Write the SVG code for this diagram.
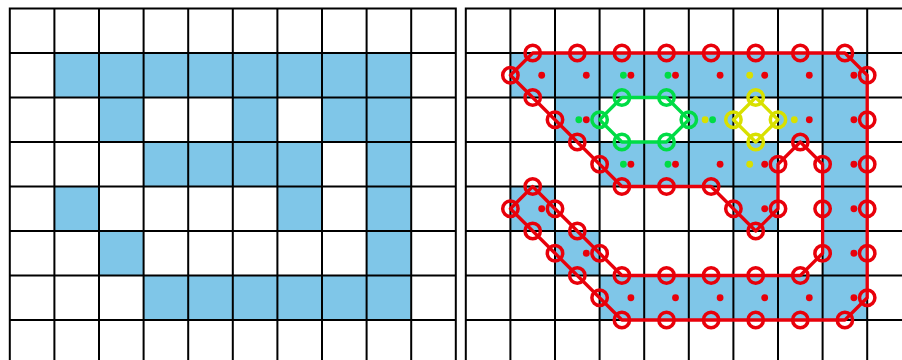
<svg xmlns="http://www.w3.org/2000/svg" xmlns:xlink="http://www.w3.org/1999/xlink" width="902" height="360" viewBox="0 0 902 360">
<style>
.cell{fill:#7fc6e8;stroke:none}
.gl{fill:none;stroke:#000;stroke-width:2;stroke-linecap:square}
.c{fill:none;stroke-width:3.3;stroke-linejoin:round}
.red{stroke:#e8000a}
.grn{stroke:#00dc46}
.yel{stroke:#d8e000}
.dr{fill:#e8000a}
.dg{fill:#00dc46}
.dy{fill:#d8e000}
</style>
<defs>
<marker id="mr" markerUnits="userSpaceOnUse" markerWidth="22" markerHeight="22" refX="11" refY="11" overflow="visible"><circle cx="11" cy="11" r="7.7" fill="none" stroke="#e8000a" stroke-width="3.5"/></marker>
<marker id="mg" markerUnits="userSpaceOnUse" markerWidth="22" markerHeight="22" refX="11" refY="11" overflow="visible"><circle cx="11" cy="11" r="7.7" fill="none" stroke="#00dc46" stroke-width="3.5"/></marker>
<marker id="my" markerUnits="userSpaceOnUse" markerWidth="22" markerHeight="22" refX="11" refY="11" overflow="visible"><circle cx="11" cy="11" r="7.7" fill="none" stroke="#d8e000" stroke-width="3.5"/></marker>
<g id="grid">
<rect class="cell" x="54.4" y="53" width="356.8" height="44.5"/>
<rect class="cell" x="99" y="97.5" width="44.6" height="44.5"/>
<rect class="cell" x="232.8" y="97.5" width="44.6" height="44.5"/>
<rect class="cell" x="322" y="97.5" width="89.2" height="44.5"/>
<rect class="cell" x="143.6" y="142" width="178.4" height="44.5"/>
<rect class="cell" x="366.6" y="142" width="44.6" height="44.5"/>
<rect class="cell" x="54.4" y="186.5" width="44.6" height="44.5"/>
<rect class="cell" x="277.4" y="186.5" width="44.6" height="44.5"/>
<rect class="cell" x="366.6" y="186.5" width="44.6" height="44.5"/>
<rect class="cell" x="99" y="231" width="44.6" height="44.5"/>
<rect class="cell" x="366.6" y="231" width="44.6" height="44.5"/>
<rect class="cell" x="143.6" y="275.5" width="267.6" height="44.5"/>
<path class="gl" d="M9.8 8.5V365M54.4 8.5V365M99 8.5V365M143.6 8.5V365M188.2 8.5V365M232.8 8.5V365M277.4 8.5V365M322 8.5V365M366.6 8.5V365M411.2 8.5V365M455.8 8.5V365M9.8 8.5H455.8M9.8 53H455.8M9.8 97.5H455.8M9.8 142H455.8M9.8 186.5H455.8M9.8 231H455.8M9.8 275.5H455.8M9.8 320H455.8"/>
</g>
</defs>
<rect width="902" height="360" fill="#fff"/>
<g id="left-grid"><use xlink:href="#grid" href="#grid"/></g>
<g id="right-grid"><use xlink:href="#grid" href="#grid" x="456"/></g>
<g id="contours">
<polygon id="outer" class="c red" marker-start="url(#mr)" marker-mid="url(#mr)" points="532.7,53 577.3,53 621.9,53 666.5,53 711.1,53 755.7,53 800.3,53 844.9,53 867.2,75.25 867.2,119.75 867.2,164.25 867.2,208.75 867.2,253.25 867.2,297.75 844.9,320 800.3,320 755.7,320 711.1,320 666.5,320 621.9,320 599.6,297.75 577.3,275.5 555,253.25 532.7,231 510.4,208.75 532.7,186.5 555,208.75 577.3,231 599.6,253.25 621.9,275.5 666.5,275.5 711.1,275.5 755.7,275.5 800.3,275.5 822.6,253.25 822.6,208.75 822.6,164.25 800.3,142 778,164.25 778,208.75 755.7,231 733.4,208.75 711.1,186.5 666.5,186.5 621.9,186.5 599.6,164.25 577.3,142 555,119.75 532.7,97.5 510.4,75.25"/>
<polygon id="hole1" class="c grn" marker-start="url(#mg)" marker-mid="url(#mg)" points="621.9,97.5 666.5,97.5 688.8,119.75 666.5,142 621.9,142 599.6,119.75"/>
<polygon id="hole2" class="c yel" marker-start="url(#my)" marker-mid="url(#my)" points="755.7,97.5 778,119.75 755.7,142 733.4,119.75"/>
</g>
<g id="dots">
<g class="dr">
<circle cx="541.7" cy="75.25" r="3.4"/><circle cx="586.3" cy="75.25" r="3.4"/><circle cx="630.9" cy="75.25" r="3.4"/><circle cx="675.5" cy="75.25" r="3.4"/><circle cx="720.1" cy="75.25" r="3.4"/><circle cx="764.7" cy="75.25" r="3.4"/><circle cx="809.3" cy="75.25" r="3.4"/><circle cx="853.9" cy="75.25" r="3.4"/>
<circle cx="586.3" cy="119.75" r="3.4"/><circle cx="809.3" cy="119.75" r="3.4"/><circle cx="853.9" cy="119.75" r="3.4"/>
<circle cx="630.9" cy="164.25" r="3.4"/><circle cx="675.5" cy="164.25" r="3.4"/><circle cx="720.1" cy="164.25" r="3.4"/><circle cx="764.7" cy="164.25" r="3.4"/><circle cx="853.9" cy="164.25" r="3.4"/>
<circle cx="541.7" cy="208.75" r="3.4"/><circle cx="764.7" cy="208.75" r="3.4"/><circle cx="853.9" cy="208.75" r="3.4"/>
<circle cx="586.3" cy="253.25" r="3.4"/><circle cx="853.9" cy="253.25" r="3.4"/>
<circle cx="630.9" cy="297.75" r="3.4"/><circle cx="675.5" cy="297.75" r="3.4"/><circle cx="720.1" cy="297.75" r="3.4"/><circle cx="764.7" cy="297.75" r="3.4"/><circle cx="809.3" cy="297.75" r="3.4"/><circle cx="853.9" cy="297.75" r="3.4"/>
</g>
<g class="dg">
<circle cx="623.4" cy="75.25" r="3.4"/><circle cx="668" cy="75.25" r="3.4"/>
<circle cx="578.8" cy="119.75" r="3.4"/><circle cx="712.6" cy="119.75" r="3.4"/>
<circle cx="623.4" cy="164.25" r="3.4"/><circle cx="668" cy="164.25" r="3.4"/>
</g>
<g class="dy">
<circle cx="749.7" cy="75.25" r="3.4"/>
<circle cx="705.1" cy="119.75" r="3.4"/><circle cx="794.3" cy="119.75" r="3.4"/>
<circle cx="749.7" cy="164.25" r="3.4"/>
</g>
</g>
</svg>
